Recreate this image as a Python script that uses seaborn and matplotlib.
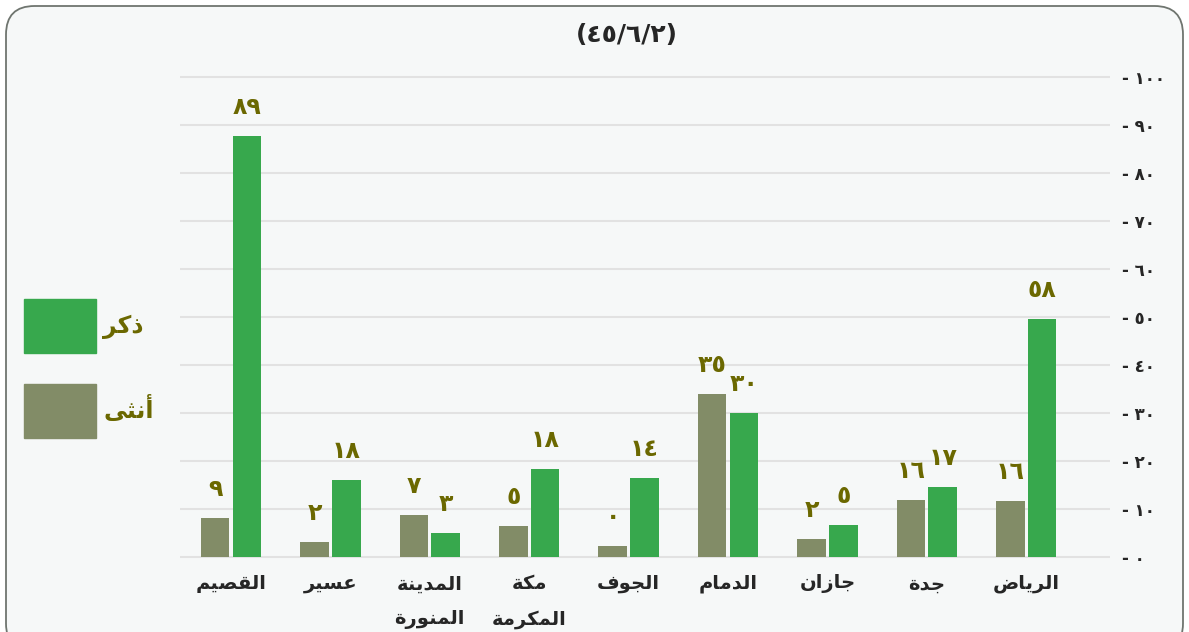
import matplotlib.pyplot as plt
import matplotlib.patches as mpatches
import pandas as pd
import seaborn as sns

# values (bar heights) and the printed labels above them
regions = ['القصيم', 'عسير', 'المدينة\nالمنورة', 'مكة\nالمكرمة', 'الجوف',
           'الدمام', 'جازان', 'جدة', 'الرياض']
female_vals = [8.1, 3.1, 8.7, 6.4, 2.2, 33.9, 3.7, 11.8, 11.6]
male_vals = [87.6, 16.0, 4.9, 18.3, 16.4, 29.9, 6.6, 14.5, 49.5]
female_labels = [9, 2, 7, 5, 0, 35, 2, 16, 16]
male_labels = [89, 18, 3, 18, 14, 30, 5, 17, 58]
y_ticks = [0, 10, 20, 30, 40, 50, 60, 70, 80, 90, 100]
title_text = '(٤٥/٦/٢)'
female_name = 'أنثى'
male_name = 'ذكر'

GREEN = '#37a84d'
GREY = '#828c67'
OLIVE = '#6b6800'

# matplotlib has no arabic shaping -> map letters to presentation forms, visual order
FORMS = {
    'ا': (0xFE8D, 0xFE8E), 'أ': (0xFE83, 0xFE84), 'ة': (0xFE93, 0xFE94),
    'د': (0xFEA9, 0xFEAA), 'ذ': (0xFEAB, 0xFEAC), 'ر': (0xFEAD, 0xFEAE),
    'ز': (0xFEAF, 0xFEB0), 'و': (0xFEED, 0xFEEE), 'ى': (0xFEEF, 0xFEF0),
    'ث': (0xFE99, 0xFE9A, 0xFE9B, 0xFE9C), 'ج': (0xFE9D, 0xFE9E, 0xFE9F, 0xFEA0),
    'س': (0xFEB1, 0xFEB2, 0xFEB3, 0xFEB4), 'ص': (0xFEB9, 0xFEBA, 0xFEBB, 0xFEBC),
    'ض': (0xFEBD, 0xFEBE, 0xFEBF, 0xFEC0), 'ع': (0xFEC9, 0xFECA, 0xFECB, 0xFECC),
    'ف': (0xFED1, 0xFED2, 0xFED3, 0xFED4), 'ق': (0xFED5, 0xFED6, 0xFED7, 0xFED8),
    'ك': (0xFED9, 0xFEDA, 0xFEDB, 0xFEDC), 'ل': (0xFEDD, 0xFEDE, 0xFEDF, 0xFEE0),
    'م': (0xFEE1, 0xFEE2, 0xFEE3, 0xFEE4), 'ن': (0xFEE5, 0xFEE6, 0xFEE7, 0xFEE8),
    'ه': (0xFEE9, 0xFEEA, 0xFEEB, 0xFEEC), 'ي': (0xFEF1, 0xFEF2, 0xFEF3, 0xFEF4),
}


def shape_line(word):
    out = []
    for i, ch in enumerate(word):
        f = FORMS.get(ch)
        if f is None:
            out.append(ch)
            continue
        prev = FORMS.get(word[i - 1]) if i > 0 else None
        nxt = FORMS.get(word[i + 1]) if i + 1 < len(word) else None
        jp = prev is not None and len(prev) == 4
        jn = len(f) == 4 and nxt is not None
        idx = 3 if (jp and jn) else 1 if jp else 2 if jn else 0
        out.append(chr(f[idx]))
    return ''.join(out)[::-1]


def shape(text):
    return '\n'.join(shape_line(l) for l in text.split('\n'))


def ar_digits(n):
    return str(n).translate(str.maketrans('0123456789', '٠١٢٣٤٥٦٧٨٩'))


sns.set_style('white')
plt.rcParams['font.family'] = ['DejaVu Sans']

df = pd.DataFrame({
    'region': regions * 2,
    'sex': [female_name] * len(regions) + [male_name] * len(regions),
    'value': female_vals + male_vals,
})

W, H = 1189, 632
fig = plt.figure(figsize=(W / 100, H / 100), dpi=100)
fig.patch.set_facecolor('white')
fig.patches.append(mpatches.FancyBboxPatch(
    (6 / W, -20 / H), 1177 / W, 646 / H, boxstyle='round,pad=0,rounding_size=0.024',
    transform=fig.transFigure, facecolor='#f6f8f8', edgecolor='#6f756f',
    linewidth=1.3, mutation_aspect=W / H, zorder=-1))

ax = fig.add_axes([180 / W, 1 - 559.1 / H, 930 / W, 484.8 / H])
ax.set_facecolor('none')
sns.barplot(data=df, x='region', y='value', hue='sex', hue_order=[female_name, male_name],
            palette={female_name: GREY, male_name: GREEN}, width=0.64, gap=0.1,
            saturation=1, linewidth=0, legend=False, ax=ax)

ax.set_xlim(-0.513, 8.843)
ax.set_ylim(-0.5, 100.5)
ax.set_yticks(y_ticks)
ax.yaxis.tick_right()
ax.set_yticklabels(['- ' + ar_digits(t) for t in y_ticks], fontsize=12, fontweight='bold')
ax.tick_params(axis='y', length=0, pad=9)
ax.set_xticks(range(len(regions)))
ax.set_xticklabels([shape(r) for r in regions], fontsize=14, fontweight='bold')
ax.tick_params(axis='x', length=0, pad=11)
for lab in ax.get_xticklabels():
    lab.set_linespacing(2.05)
ax.set_xlabel('')
ax.set_ylabel('')
ax.grid(axis='y', color='#e2e2e2', linewidth=1.5)
ax.set_axisbelow(True)
for s in ax.spines.values():
    s.set_visible(False)

for cont, labels in zip(ax.containers, [female_labels, male_labels]):
    for bar, lab in zip(cont, labels):
        ax.annotate(ar_digits(lab), (bar.get_x() + bar.get_width() / 2, bar.get_height()),
                    xytext=(0, 21), textcoords='offset points', ha='center', va='center',
                    fontsize=17, fontweight='bold', color=OLIVE)

handles = [mpatches.Patch(color=GREEN, label=shape(male_name)),
           mpatches.Patch(color=GREY, label=shape(female_name))]
ax.legend(handles=handles, loc='upper left', bbox_to_anchor=(24 / W, 1 - 299 / H),
          bbox_transform=fig.transFigure, frameon=False, borderpad=0, borderaxespad=0,
          handlelength=3.05, handleheight=3.15, labelspacing=1.3, handletextpad=0.3,
          prop={'size': 17, 'weight': 'bold'}, labelcolor=OLIVE)

fig.text(627 / W, 1 - 35 / H, title_text, ha='center', va='center', fontsize=18,
         fontweight='bold')

fig.savefig('out.png', dpi=100)
